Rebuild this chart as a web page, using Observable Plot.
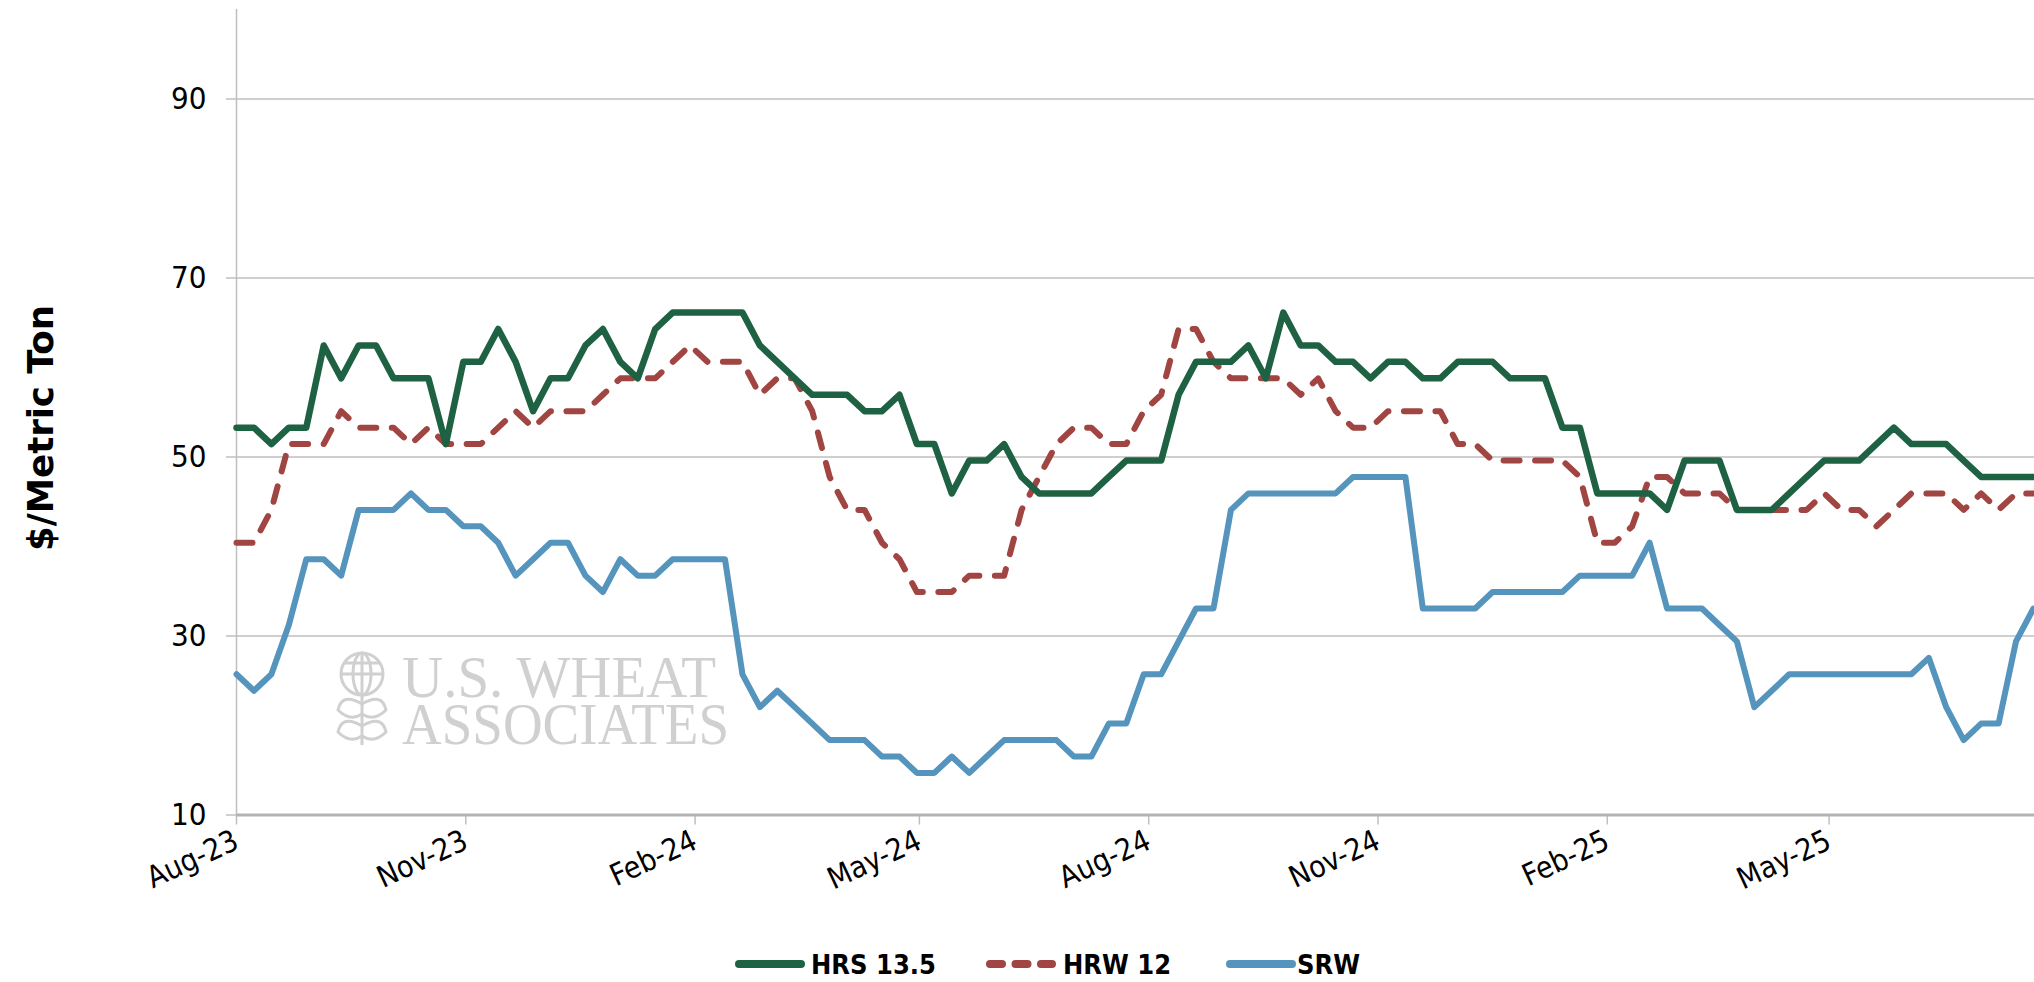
<!DOCTYPE html>
<html>
<head>
<meta charset="utf-8">
<script src="https://cdn.jsdelivr.net/npm/d3@7"></script>
<script src="https://cdn.jsdelivr.net/npm/@observablehq/plot@0.6"></script>
<style>
  html, body { margin: 0; padding: 0; background: #fff; }
  #wrap { position: relative; width: 2034px; height: 982px; overflow: hidden; font-family: "DejaVu Sans Condensed", "Liberation Sans", sans-serif; }
  #legend { position: absolute; left: 0; top: 930px; }
</style>
</head>
<body>
<div id="wrap">
  <div id="chart"></div>
  <svg id="legend" width="2034" height="52"></svg>
</div>
<script>
// ---- data (weekly, $/metric ton) ----
const startDate = "2023-08-01";
const seriesNames = ["HRS 13.5", "HRW 12", "SRW"];
const seriesColors = ["#1f6243", "#a04542", "#5594bc"];
const hrs = [
  53.28,53.28,51.44,53.28,53.28,62.46,58.79,62.46,62.46,58.79,
  58.79,58.79,51.44,60.63,60.63,64.30,60.63,55.12,58.79,58.79,
  62.46,64.30,60.63,58.79,64.30,66.14,66.14,66.14,66.14,66.14,
  62.46,60.63,58.79,56.95,56.95,56.95,55.12,55.12,56.95,51.44,
  51.44,45.93,49.60,49.60,51.44,47.77,45.93,45.93,45.93,45.93,
  47.77,49.60,49.60,49.60,56.95,60.63,60.63,60.63,62.46,58.79,
  66.14,62.46,62.46,60.63,60.63,58.79,60.63,60.63,58.79,58.79,
  60.63,60.63,60.63,58.79,58.79,58.79,53.28,53.28,45.93,45.93,
  45.93,45.93,44.09,49.60,49.60,49.60,44.09,44.09,44.09,45.93,
  47.77,49.60,49.60,49.60,51.44,53.28,51.44,51.44,51.44,49.60,
  47.77,47.77,47.77,47.77
];
const hrw = [
  40.42,40.42,44.09,51.44,51.44,51.44,55.12,53.28,53.28,53.28,
  51.44,53.28,51.44,51.44,51.44,53.28,55.12,53.28,55.12,55.12,
  55.12,56.95,58.79,58.79,58.79,60.63,62.46,60.63,60.63,60.63,
  56.95,58.79,58.79,55.12,47.77,44.09,44.09,40.42,38.58,34.91,
  34.91,34.91,36.74,36.74,36.74,44.09,47.77,51.44,53.28,53.28,
  51.44,51.44,55.12,56.95,64.30,64.30,60.63,58.79,58.79,58.79,
  58.79,56.95,58.79,55.12,53.28,53.28,55.12,55.12,55.12,55.12,
  51.44,51.44,49.60,49.60,49.60,49.60,49.60,47.77,40.42,40.42,
  42.26,47.77,47.77,45.93,45.93,45.93,44.09,44.09,44.09,44.09,
  44.09,45.93,44.09,44.09,42.26,44.09,45.93,45.93,45.93,44.09,
  45.93,44.09,45.93,45.93
];
const srw = [
  25.72,23.88,25.72,31.23,38.58,38.58,36.74,44.09,44.09,44.09,
  45.93,44.09,44.09,42.26,42.26,40.42,36.74,38.58,40.42,40.42,
  36.74,34.91,38.58,36.74,36.74,38.58,38.58,38.58,38.58,25.72,
  22.05,23.88,22.05,20.21,18.37,18.37,18.37,16.53,16.53,14.70,
  14.70,16.53,14.70,16.53,18.37,18.37,18.37,18.37,16.53,16.53,
  20.21,20.21,25.72,25.72,29.40,33.07,33.07,44.09,45.93,45.93,
  45.93,45.93,45.93,45.93,47.77,47.77,47.77,47.77,33.07,33.07,
  33.07,33.07,34.91,34.91,34.91,34.91,34.91,36.74,36.74,36.74,
  36.74,40.42,33.07,33.07,33.07,31.23,29.40,22.05,23.88,25.72,
  25.72,25.72,25.72,25.72,25.72,25.72,25.72,27.56,22.05,18.37,
  20.21,20.21,29.40,33.07
];
const xTickDates = ["2023-08-01","2023-11-01","2024-02-01","2024-05-01","2024-08-01","2024-11-01","2025-02-01","2025-05-01"];
const yTicks = [10, 30, 50, 70, 90];
const yTitle = "$/Metric Ton";
const watermarkLines = ["U.S. WHEAT", "ASSOCIATES"];

// ---- build table ----
const start = new Date(startDate + "T00:00:00Z");
const dates = hrs.map((_, i) => d3.utcDay.offset(start, 7 * i));
const table = [];
[hrs, hrw, srw].forEach((vals, s) => vals.forEach((v, i) => table.push({date: dates[i], value: v, series: seriesNames[s]})));
const bySeries = name => table.filter(d => d.series === name);

const fontNarrow = '"DejaVu Sans Condensed", "Liberation Sans", sans-serif';
const dashHRW = "16,15.5";

const chart = Plot.plot({
  width: 2034,
  height: 900,
  marginLeft: 236,
  marginRight: 0,
  marginTop: 9,
  marginBottom: 85.5,
  style: {fontFamily: fontNarrow, color: "#000", background: "#fff", overflow: "visible"},
  x: {type: "utc", domain: [start, new Date("2025-07-22T10:00:00Z")]},
  y: {domain: [10, 100]},
  marks: [
    Plot.ruleY(yTicks.slice(1), {stroke: "#bfbfbf", strokeWidth: 1.5}),
    Plot.ruleX([start], {stroke: "#bfbfbf", strokeWidth: 1.5}),
    Plot.axisY({ticks: yTicks, tickSize: 10, tickPadding: 20, fontSize: 31, stroke: "#bfbfbf", strokeWidth: 1.5, label: null}),
    Plot.axisX({ticks: xTickDates.map(d => new Date(d + "T00:00:00Z")), tickFormat: d3.utcFormat("%b-%y"), tickSize: 10, tickPadding: 14, tickRotate: -25, fontSize: 30, stroke: "#bfbfbf", strokeWidth: 1.5, label: null}),
    Plot.ruleY([10], {stroke: "#b3b3b3", strokeWidth: 3}),
    Plot.line(bySeries("SRW"), {x: "date", y: "value", stroke: seriesColors[2], strokeWidth: 6, strokeLinejoin: "round"}),
    Plot.line(bySeries("HRW 12"), {x: "date", y: "value", stroke: seriesColors[1], strokeWidth: 6, strokeDasharray: dashHRW, strokeLinecap: "round", strokeLinejoin: "round"}),
    Plot.line(bySeries("HRS 13.5"), {x: "date", y: "value", stroke: seriesColors[0], strokeWidth: 6.5, strokeLinejoin: "round"})
  ]
});
document.getElementById("chart").appendChild(chart);

const svg = d3.select(chart);

// y-axis title
svg.append("text")
  .attr("transform", "translate(53,428) rotate(-90)")
  .attr("text-anchor", "middle")
  .attr("font-family", fontNarrow)
  .attr("font-weight", "bold")
  .attr("font-size", 36)
  .attr("textLength", 246)
  .attr("lengthAdjust", "spacingAndGlyphs")
  .attr("fill", "#000")
  .text(yTitle);

// watermark (drawn beneath the data lines)
const firstLine = chart.querySelector("g[aria-label='line']");
const wmNode = document.createElementNS("http://www.w3.org/2000/svg", "g");
chart.insertBefore(wmNode, firstLine);
const wm = d3.select(wmNode).attr("fill", "#d0d0d0").attr("stroke", "none").attr("text-anchor", "start");
wm.append("text").attr("x", 402).attr("y", 697).attr("font-family", "Liberation Serif, serif").attr("font-size", 60)
  .attr("textLength", 314).attr("lengthAdjust", "spacingAndGlyphs").text(watermarkLines[0]);
wm.append("text").attr("x", 402).attr("y", 744).attr("font-family", "Liberation Serif, serif").attr("font-size", 60)
  .attr("textLength", 327).attr("lengthAdjust", "spacingAndGlyphs").text(watermarkLines[1]);
const logo = wm.append("g").attr("fill", "none").attr("stroke", "#d0d0d0").attr("stroke-width", 3);
logo.append("circle").attr("cx", 362).attr("cy", 674).attr("r", 21);
logo.append("ellipse").attr("cx", 362).attr("cy", 674).attr("rx", 9).attr("ry", 21);
logo.append("line").attr("x1", 341).attr("y1", 674).attr("x2", 383).attr("y2", 674);
logo.append("line").attr("x1", 345).attr("y1", 663).attr("x2", 379).attr("y2", 663);
logo.append("line").attr("x1", 362).attr("y1", 653).attr("x2", 362).attr("y2", 745);
logo.append("path").attr("d", "M362,704 Q342,692 338,710 Q350,722 362,714 Q374,722 386,710 Q382,692 362,704 M362,726 Q342,714 338,732 Q350,744 362,736 Q374,744 386,732 Q382,714 362,726");

// legend
const legend = d3.select("#legend");
const legendSwatchX = [735, 986, 1226];
const legendTextX = [811, 1063, 1297];
seriesNames.forEach((name, i) => {
  legend.append("line")
    .attr("x1", legendSwatchX[i] + 4).attr("x2", legendSwatchX[i] + 66)
    .attr("y1", 34).attr("y2", 34)
    .attr("stroke", seriesColors[i]).attr("stroke-width", 8).attr("stroke-linecap", "round")
    .attr("stroke-dasharray", i === 1 ? "12,13.5" : null);
  legend.append("text")
    .attr("x", legendTextX[i]).attr("y", 44)
    .attr("font-family", fontNarrow).attr("font-weight", "bold").attr("font-size", 27)
    .attr("fill", "#000")
    .text(name);
});
</script>
</body>
</html>
